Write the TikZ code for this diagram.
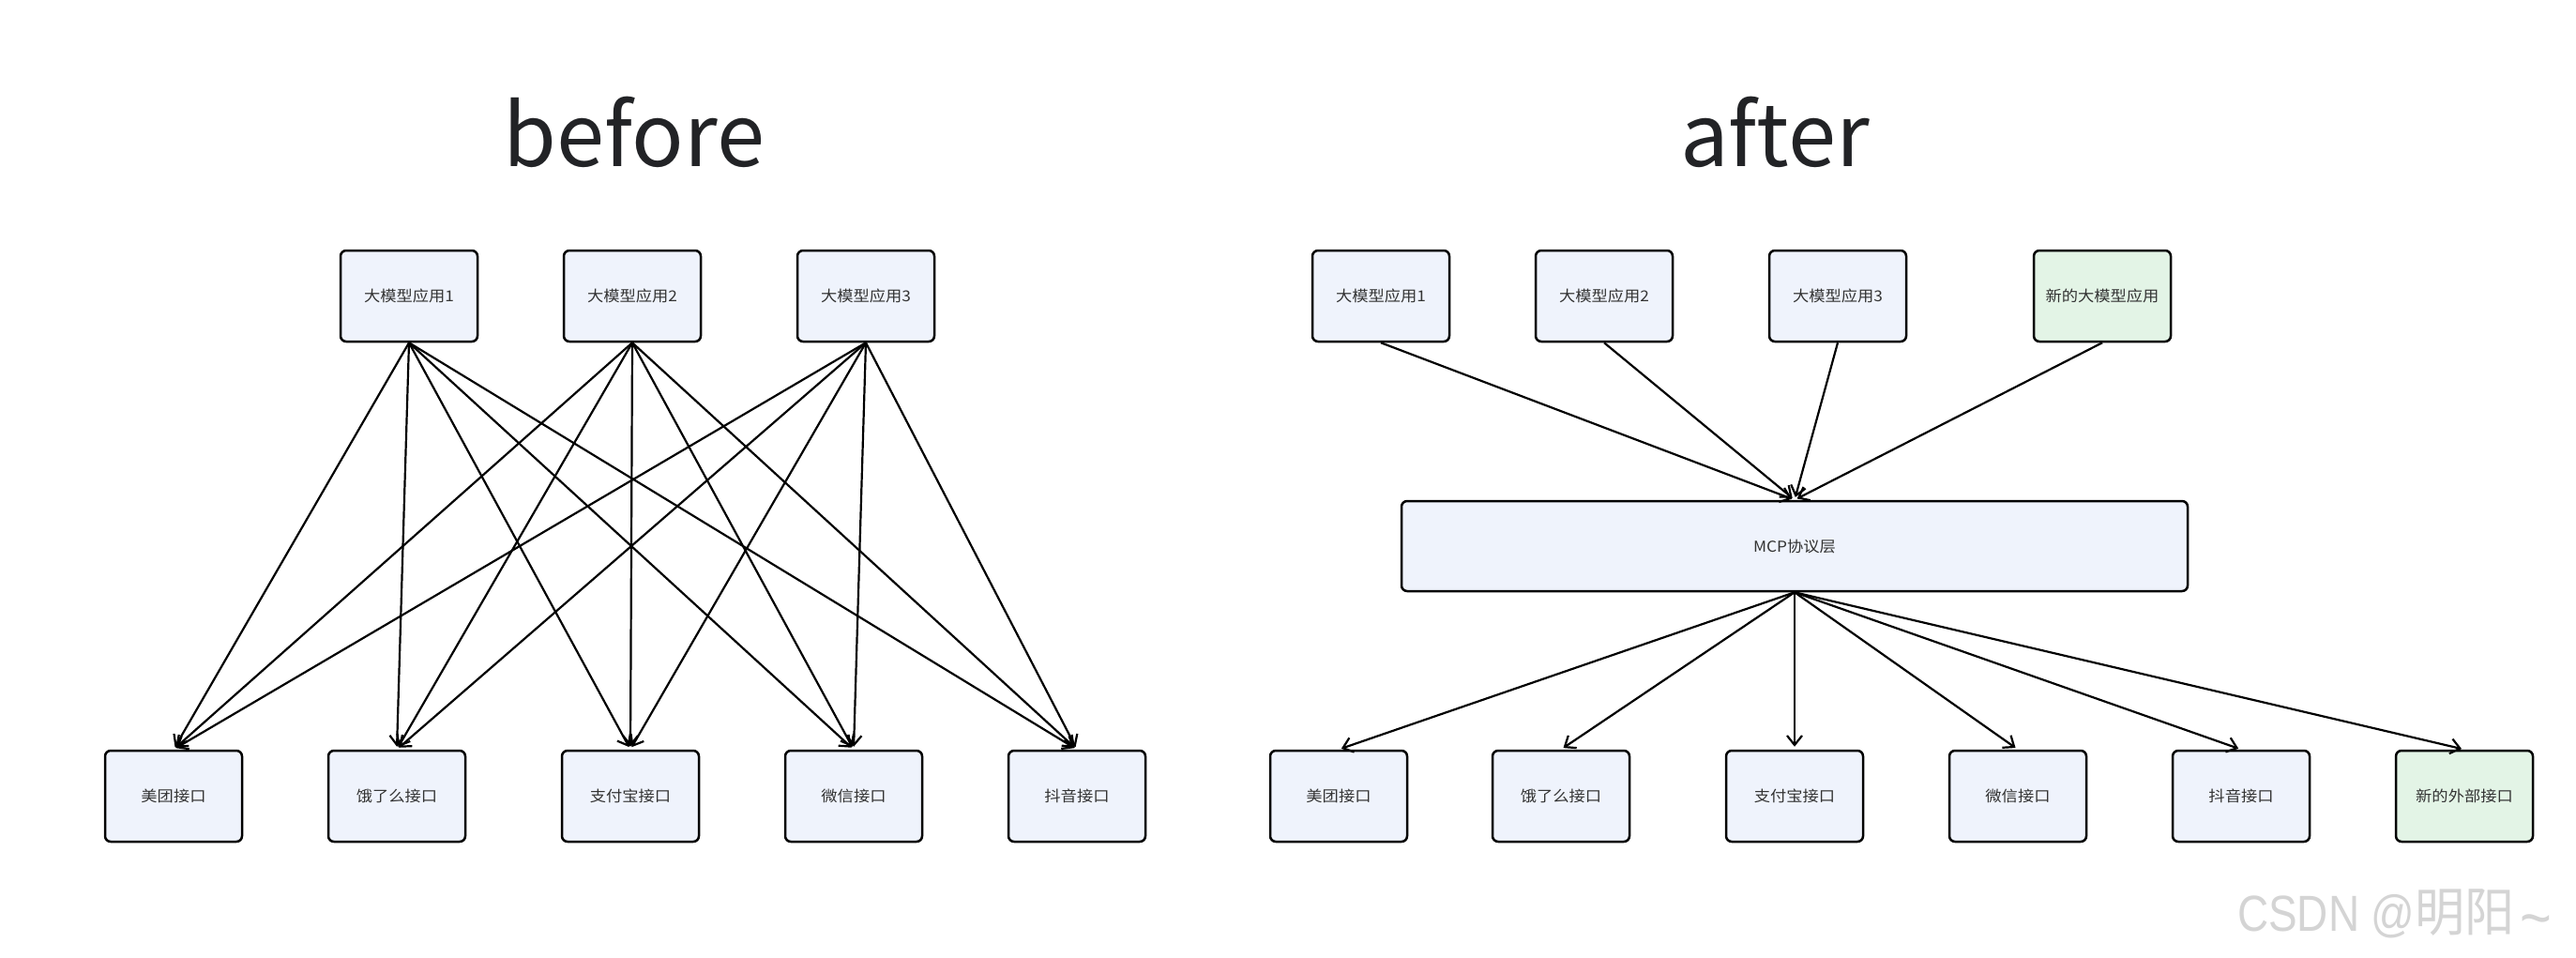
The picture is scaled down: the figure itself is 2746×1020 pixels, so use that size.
\documentclass[tikz,border=0pt]{standalone}
\usepackage{fontspec}
\usepackage{tikz}
\usetikzlibrary{arrows.meta}
\setmainfont{Noto Sans CJK SC}
\newfontfamily\boxfont[FakeStretch=1.08]{Noto Sans CJK SC}
\newfontfamily\markfont[FakeStretch=0.85]{Liberation Sans}
\newfontfamily\markcjk[FakeStretch=0.95]{Noto Sans CJK SC}
\definecolor{boxblue}{HTML}{EFF3FC}
\definecolor{boxgreen}{HTML}{E3F4E6}
\definecolor{titlegray}{HTML}{222326}
\definecolor{labelgray}{HTML}{333333}
\definecolor{markgray}{HTML}{D4D4D4}

\begin{document}
\begin{tikzpicture}[x=1pt, y=-1pt,
	box/.style={draw=black, fill=boxblue, rounded corners=6pt, line width=2.5pt,
		minimum width=146pt, minimum height=97pt, inner sep=0pt,
		text=labelgray, font=\boxfont\fontsize{16}{19}\selectfont},
	new box/.style={box, fill=boxgreen},
	link/.style={line width=2.2pt, shorten >=3pt,
		-{Straight Barb[length=10pt, width=16pt]}},
	title/.style={anchor=base, inner sep=0pt, text=titlegray,
		font=\fontsize{92}{110}\selectfont}]
	\useasboundingbox[fill=white] (0,0) rectangle (2746,1020);
	% before
	\node[title] (before) at (676,177) {before};
	\foreach \x [count=\i] in {436,674,923}{
		\node[box] (ba\i) at (\x,315.5) {大模型应用\i};
	}
	\foreach \x/\name [count=\j] in {185/美团接口,423/饿了么接口,672/支付宝接口,910/微信接口,1148/抖音接口}{
		\node[box] (bb\j) at (\x,848.5) {\name};
	}
	\foreach \i in {1,2,3}{
		\foreach \j in {1,...,5}{
			\draw[link] (ba\i.south) -- (bb\j.north);
	}}
	% after
	\node[title] (after) at (1892,177) {after};
	\foreach \x [count=\i] in {1472,1710,1959}{
		\node[box] (aa\i) at (\x,315.5) {大模型应用\i};
	}
	\node[new box] (aa4) at (2241,315.5) {新的大模型应用};
	\node[box, minimum width=838pt, minimum height=96pt] (mcp) at (1913,582) {MCP协议层};
	\foreach \x/\name [count=\j] in {1427/美团接口,1664/饿了么接口,1913/支付宝接口,2151/微信接口,2389/抖音接口}{
		\node[box] (ab\j) at (\x,848.5) {\name};
	}
	\node[new box] (ab6) at (2627,848.5) {新的外部接口};
	\foreach \i in {1,...,4}{
		\draw[link] (aa\i.south) -- (mcp.north);
	}
	\foreach \j in {1,...,6}{
		\draw[link] (mcp.south) -- (ab\j.north);
	}
	\node[anchor=base west, inner sep=0pt, text=markgray] (mark) at (2385,992)
		{\markfont\fontsize{54}{60}\selectfont CSDN @{\markcjk\fontsize{56}{60}\selectfont 明阳}\hspace{5pt}\raisebox{-9pt}{\fontsize{68}{68}\selectfont\textasciitilde}};
\end{tikzpicture}
\end{document}
